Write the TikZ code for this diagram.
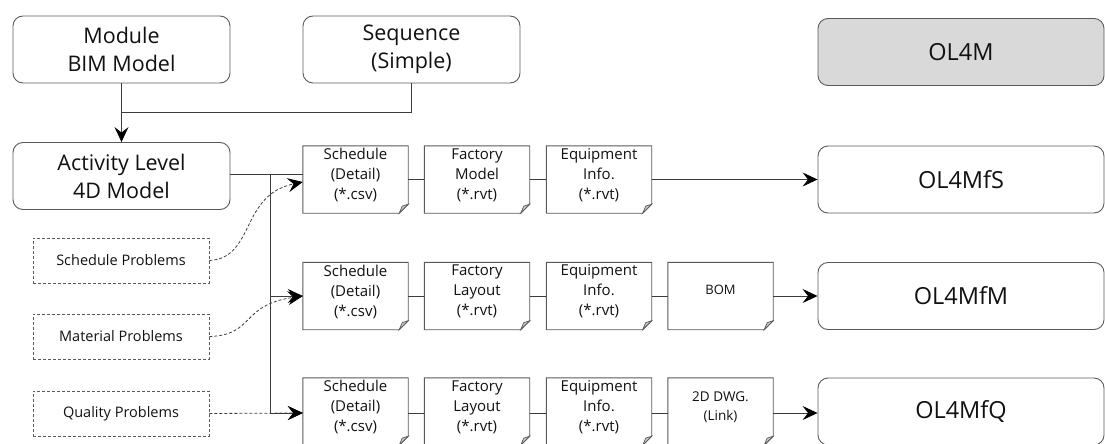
\documentclass[tikz,border=0pt]{standalone}
\usepackage{fontspec}
\setmainfont{Open Sans}
\usetikzlibrary{arrows.meta,calc}
\definecolor{linec}{HTML}{3C3C3C}
\definecolor{boxc}{HTML}{5A5A5A}
\definecolor{txtc}{HTML}{111111}
\definecolor{foldc}{HTML}{C8C8C8}
\pgfdeclarelayer{bg}
\pgfsetlayers{bg,main}
\tikzset{
  base/.style={text=txtc, align=center, inner sep=0pt, font=\fontsize{21.5}{28}\selectfont},
  rbox/.style={base, draw=boxc, line width=0.9pt, rounded corners=10pt, minimum width=217pt, minimum height=67pt},
  obox/.style={rbox, minimum width=286pt, font=\fontsize{23.5}{28}\selectfont},
  docbox/.style={base, minimum width=105pt, minimum height=67pt},
  doctext/.style={base, font=\fontsize{15}{20}\selectfont},
  probbox/.style={base, draw=boxc, dashed, dash pattern=on 3pt off 2pt, line width=0.8pt, minimum width=176pt, minimum height=45pt, font=\fontsize{14.5}{18}\selectfont},
  conn/.style={draw=linec, line width=0.85pt},
  tip/.tip={Stealth[length=15pt,width=14pt,inset=5.5pt,fill=black,color=black]},
  arr/.style={conn, -tip},
  dconn/.style={draw=linec, line width=0.8pt, dashed, dash pattern=on 3pt off 2pt},
  darr/.style={dconn, -tip},
  docline/.style={draw=boxc, line width=0.9pt, fill=white},
}
\begin{document}
\begin{tikzpicture}[x=1pt,y=-1pt]
\useasboundingbox (0,0) rectangle (1105,444);
% top
\node[rbox] (mod) at (121.5,49.5) {Module\\BIM Model};
\node[rbox] (seq) at (411.5,49.5) {Sequence\\(Simple)};
\node[obox, fill=black!15] (ol4m) at (961,52) {OL4M};
\node[rbox] (act) at (121.5,176) {Activity Level\\4D Model};
% result boxes
\node[obox] (olS) at (961,179.5) {OL4MfS};
\node[obox] (olM) at (961,296) {OL4MfM};
\node[obox] (olQ) at (961,411.5) {OL4MfQ};
% problem boxes
\node[probbox] (sp) at (121,260.5) {Schedule Problems};
\node[probbox] (mp) at (121,336.5) {Material Problems};
\node[probbox] (qp) at (121,413.5) {Quality Problems};
% doc boxes (frames only)
\node[docbox] (s1) at (355.5,179.5) {};
\node[docbox] (f1) at (477,179.5) {};
\node[docbox] (e1) at (599,179.5) {};
\node[docbox] (s2) at (355.5,296) {};
\node[docbox] (f2) at (477,296) {};
\node[docbox] (e2) at (599,296) {};
\node[docbox] (bom) at (720.5,296) {};
\node[docbox] (s3) at (355.5,411.5) {};
\node[docbox] (f3) at (477,411.5) {};
\node[docbox] (e3) at (599,411.5) {};
\node[docbox] (dwg) at (720.5,411.5) {};
\begin{pgfonlayer}{bg}
\foreach \n in {s1,f1,e1,s2,f2,e2,bom,s3,f3,e3,dwg}{
  \path[docline] (\n.north west) -- (\n.north east) -- ([yshift=9pt]\n.south east) -- ([xshift=-9pt]\n.south east) -- (\n.south west) -- cycle;
  \path[draw=boxc, line width=0.7pt, fill=foldc] ([yshift=9pt]\n.south east) -- ([xshift=-9pt]\n.south east) -- ([xshift=-6pt,yshift=7pt]\n.south east) -- cycle;
}
\end{pgfonlayer}
% doc texts
\node[doctext] (s1t) at ([yshift=4.5pt]s1.center) {Schedule\\(Detail)\\(*.csv)};
\node[doctext] (f1t) at ([yshift=4.5pt]f1.center) {Factory\\Model\\(*.rvt)};
\node[doctext] (e1t) at ([yshift=4.5pt]e1.center) {Equipment\\Info.\\(*.rvt)};
\node[doctext] (s2t) at ([yshift=4.5pt]s2.center) {Schedule\\(Detail)\\(*.csv)};
\node[doctext] (f2t) at ([yshift=4.5pt]f2.center) {Factory\\Layout\\(*.rvt)};
\node[doctext] (e2t) at ([yshift=4.5pt]e2.center) {Equipment\\Info.\\(*.rvt)};
\node[doctext, font=\fontsize{13}{17}\selectfont] (bomt) at ([yshift=6pt]bom.center) {BOM};
\node[doctext] (s3t) at ([yshift=4.5pt]s3.center) {Schedule\\(Detail)\\(*.csv)};
\node[doctext] (f3t) at ([yshift=4.5pt]f3.center) {Factory\\Layout\\(*.rvt)};
\node[doctext] (e3t) at ([yshift=4.5pt]e3.center) {Equipment\\Info.\\(*.rvt)};
\node[doctext, font=\fontsize{13.5}{19}\selectfont] (dwgt) at ([yshift=4pt]dwg.center) {2D DWG.\\(Link)};
% top connectors
\coordinate (j) at (121.5,112);
\draw[conn] (seq.south) |- (j);
\draw[arr] (mod.south) -- (act.north);
% activity to schedules
\coordinate (a1) at (act.east |- 0,174);
\coordinate (t1) at (270,174);
\draw[conn] (a1) -- (s1.west |- a1);
\draw[conn] (t1) -- (270,413);
\draw[arr] (t1) |- (s2.west);
\draw[arr] (t1) |- ($(s3.west)+(0,1.5)$);
% problem links
\draw[darr] (sp.east) .. controls (255,258) and (240,195) .. ($(s1.west)+(0,2.5)$);
\draw[darr] (mp.east) .. controls (255,335) and (240,305) .. (s2.west);
\draw[darr] (qp.east) -- ($(s3.west)+(0,1.5)$);
% chains
\draw[conn] (s1) -- (f1);
\draw[conn] (f1) -- (e1);
\draw[arr] (e1) -- (olS);
\draw[conn] (s2) -- (f2);
\draw[conn] (f2) -- (e2);
\draw[conn] (e2) -- (bom);
\draw[arr] (bom) -- (olM);
\draw[conn] ($(s3.east)+(0,1.5)$) -- ($(f3.west)+(0,1.5)$);
\draw[conn] ($(f3.east)+(0,1.5)$) -- ($(e3.west)+(0,1.5)$);
\draw[conn] ($(e3.east)+(0,1.5)$) -- ($(dwg.west)+(0,1.5)$);
\draw[arr] ($(dwg.east)+(0,1.5)$) -- ($(olQ.west)+(0,1.5)$);
\end{tikzpicture}
\end{document}
